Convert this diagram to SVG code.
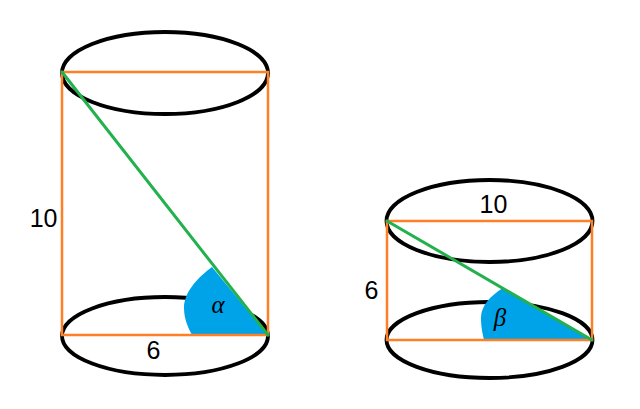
<svg xmlns="http://www.w3.org/2000/svg" width="640" height="409" viewBox="0 0 640 409">
<style>
.ell{fill:none;stroke:#000;stroke-width:3.8}
.edge{fill:none;stroke:#FF7F27;stroke-width:2.5}
.diag{fill:none;stroke:#22B14C;stroke-width:3;stroke-linecap:round}
.ang{fill:#00A2E8;stroke:none}
.num{font-family:"Liberation Sans",Arial,sans-serif;font-size:25px;fill:#000}
.greek{font-family:"Liberation Serif","Times New Roman",serif;font-style:italic;font-size:25px;fill:#000}
</style>
<rect width="640" height="409" fill="#fff"/>
<g id="cylinder-left">
<ellipse class="ell" cx="165" cy="73" rx="103" ry="41"/>
<ellipse class="ell" cx="165" cy="336" rx="103" ry="39"/>
<path class="ang" d="M268,335 L212,267 C196,279 184,293 184,308 C184,320 189,329 192,335 Z"/>
<rect class="edge" x="62" y="72" width="206" height="263"/>
<line class="diag" x1="62" y1="72" x2="268" y2="335"/>
<text class="greek" x="218" y="313" text-anchor="middle">α</text>
<text class="num" x="57.5" y="227" text-anchor="end">10</text>
<text class="num" x="153.5" y="358.5" text-anchor="middle">6</text>
</g>
<g id="cylinder-right">
<ellipse class="ell" cx="489.5" cy="221" rx="103" ry="41"/>
<ellipse class="ell" cx="489.5" cy="340" rx="103" ry="38"/>
<path class="ang" d="M592,340 L503,288 C490,296 481,306 481,318 C481,328 483,335 484,340 Z"/>
<rect class="edge" x="387" y="221" width="205" height="119"/>
<line class="diag" x1="387" y1="221" x2="592" y2="340"/>
<text class="greek" x="500" y="326" text-anchor="middle">β</text>
<text class="num" x="493.5" y="213" text-anchor="middle">10</text>
<text class="num" x="371.5" y="298.5" text-anchor="middle">6</text>
</g>
</svg>
